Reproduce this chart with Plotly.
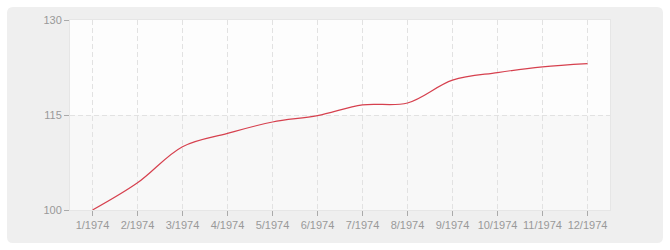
import plotly.graph_objects as go

months = ["1/1974", "2/1974", "3/1974", "4/1974", "5/1974", "6/1974",
          "7/1974", "8/1974", "9/1974", "10/1974", "11/1974", "12/1974"]
values = [100.0, 104.3, 110.0, 112.1, 113.9, 114.9, 116.6, 116.9, 120.5, 121.7, 122.6, 123.1]
y_ticks = [100, 115, 130]

W, H = 670, 250
ML, MR, MT, MB = 70, 60, 20, 40
pw, ph = W - ML - MR, H - MT - MB

def px(x):
    return (x - ML) / pw

def py(y):
    return (H - MB - y) / ph

# rounded outer panel path in paper coords
x0, x1, y0, y1, r = 7, 663, 7, 243, 6
def P(x, y):
    return f"{px(x)},{py(y)}"
path = (f"M {P(x0 + r, y0)} L {P(x1 - r, y0)} Q {P(x1, y0)} {P(x1, y0 + r)} "
        f"L {P(x1, y1 - r)} Q {P(x1, y1)} {P(x1 - r, y1)} "
        f"L {P(x0 + r, y1)} Q {P(x0, y1)} {P(x0, y1 - r)} "
        f"L {P(x0, y0 + r)} Q {P(x0, y0)} {P(x0 + r, y0)} Z")

fig = go.Figure()
fig.add_trace(go.Scatter(
    x=list(range(len(months))), y=values, mode="lines",
    line=dict(color="#d6404e", width=1.2, shape="spline", smoothing=1.0),
    hoverinfo="skip", showlegend=False,
))

fig.update_layout(
    width=W, height=H,
    margin=dict(l=ML, r=MR, t=MT, b=MB),
    paper_bgcolor="white",
    plot_bgcolor="#fdfdfd",
    font=dict(family="Liberation Sans", size=11, color="#999999"),
    shapes=[
        dict(type="path", path=path, xref="paper", yref="paper",
             fillcolor="#efefef", line=dict(width=0), layer="below"),
        dict(type="rect", xref="x domain", yref="y domain", x0=0, x1=1, y0=0.5, y1=1,
             fillcolor="#fdfdfd", line=dict(width=0), layer="below"),
        dict(type="rect", xref="x domain", yref="y domain", x0=0, x1=1, y0=0, y1=0.5,
             fillcolor="#f8f8f8", line=dict(width=0), layer="below"),
    ],
    xaxis=dict(
        range=[-0.5, len(months) - 0.5],
        tickmode="array", tickvals=list(range(len(months))), ticktext=months,
        showgrid=True, gridcolor="#e2e2e2", griddash="5px,3px", gridwidth=1,
        ticks="outside", ticklen=5, tickcolor="#aaaaaa", tickwidth=1,
        showline=True, mirror=True, linecolor="#e6e6e6", linewidth=1,
        zeroline=False, fixedrange=True,
    ),
    yaxis=dict(
        range=[100, 130],
        tickmode="array", tickvals=y_ticks, ticktext=[str(v) for v in y_ticks],
        showgrid=True, gridcolor="#e2e2e2", griddash="5px,3px", gridwidth=1,
        ticks="outside", ticklen=5, tickcolor="#aaaaaa", tickwidth=1,
        showline=True, mirror=True, linecolor="#e6e6e6", linewidth=1,
        zeroline=False, fixedrange=True,
    ),
)

fig.write_html("out.html")
